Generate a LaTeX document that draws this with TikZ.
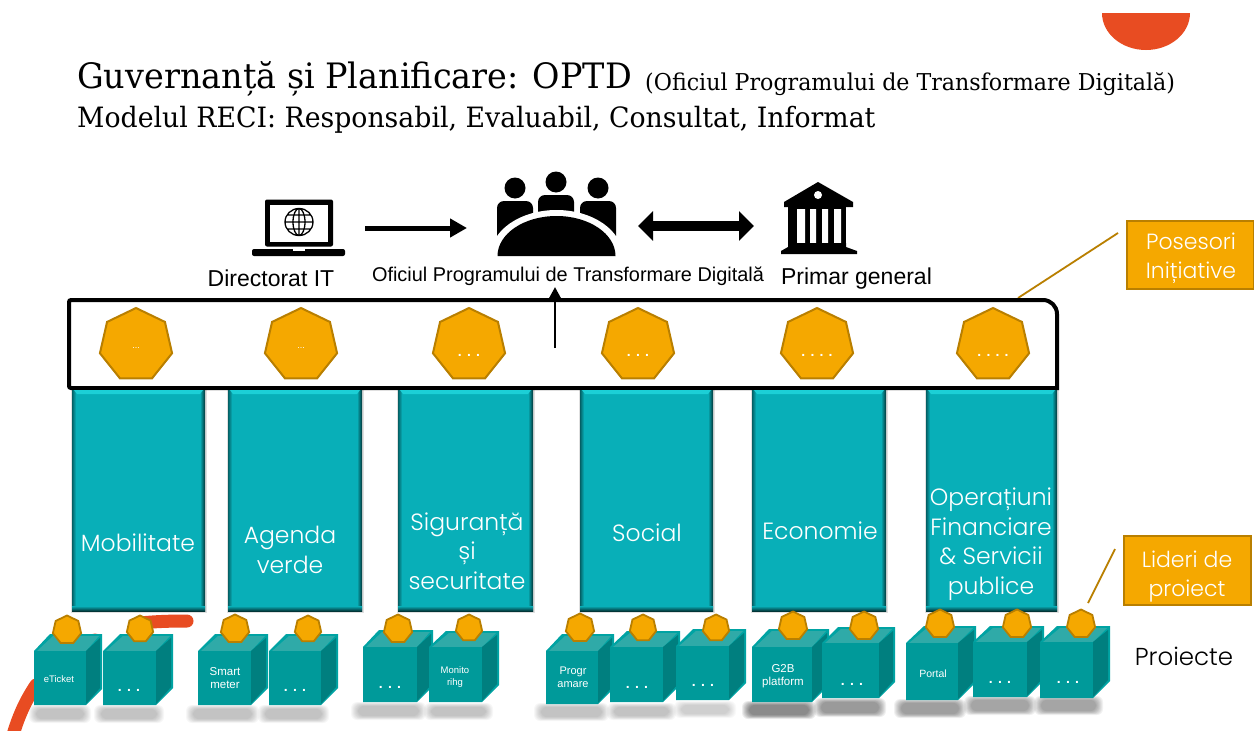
\documentclass[tikz,border=0pt]{standalone}
\usepackage{fontspec}
\setmainfont{Liberation Sans}
\newfontfamily\titlefont[FakeStretch=0.955]{DejaVu Serif}
\newfontfamily\gothfont{Poppins Light}
\usetikzlibrary{shapes.geometric,arrows.meta}
\definecolor{redc}{HTML}{E84C22}
\definecolor{amber}{HTML}{F5A800}
\definecolor{amberline}{HTML}{B97F00}
\definecolor{pillarc}{HTML}{08AFB8}
\definecolor{pillarhi}{HTML}{1CCFD6}
\definecolor{cubefront}{HTML}{009A9A}
\definecolor{cubeedge}{HTML}{00A3A3}
\definecolor{cubetop}{HTML}{2FAAA8}
\definecolor{cubeside}{HTML}{007F7F}
\tikzset{
  bighept/.style={regular polygon,regular polygon sides=7,minimum size=74pt,inner sep=0pt,fill=amber,draw=amberline,line width=2pt},
  smallhept/.style={regular polygon,regular polygon sides=7,minimum size=29pt,inner sep=0pt,fill=amber,draw=amberline,line width=1.8pt},
  callout/.style={rectangle,fill=amber,draw=amberline,line width=2pt,inner sep=0pt},
  calloutlabel/.style={text=white,align=center,inner sep=0pt,font=\gothfont\fontsize{22}{29.5}\selectfont},
  calloutline/.style={draw=amberline,line width=1.8pt},
  pillarbox/.style={rectangle,fill=pillarc,inner sep=0pt},
  pillarlabel/.style={text=white,align=center,inner sep=0pt,font=\gothfont\fontsize{23.5}{29.5}\selectfont},
  cubelabel/.style={text=white,align=center,inner sep=0pt,font=\fontsize{10.5}{13.5}\selectfont},
  dotlabel/.style={text=white,align=center,inner sep=0pt,font=\bfseries\fontsize{14}{14}\selectfont},
  tinydots/.style={text=white,align=center,inner sep=0pt,font=\fontsize{9}{9}\selectfont},
  iconlabel/.style={text=black,inner sep=0pt,font=\fontsize{23}{26}\selectfont},
  flow/.style={draw=black,line width=5pt,-{Triangle[length=17pt,width=18pt]}},
  both/.style={draw=black,line width=10pt,{Triangle[length=15pt,width=29pt]}-{Triangle[length=15pt,width=29pt]}},
  up/.style={draw=black,line width=2.8pt,-{Triangle[length=11pt,width=11pt]}},
}
% name, x1, x2, xright, ytop, yfront, ybottom
\newcommand\cubeat[7]{%
  \pgfmathsetmacro\dd{#4-#3}%
  \fill[cubeedge] (#2,#6) -- ({#2+\dd},#5) -- (#4,#5) -- (#4,{#7-\dd}) -- (#3,#7) -- (#2,#7) -- cycle;
  \fill[cubetop] (#2+3,#6) -- ({#2+\dd+3},#5+2) -- (#4-3,#5+2) -- (#3,#6) -- cycle;
  \fill[cubeside] (#3,#6) -- (#4-2,#5+4) -- (#4-2,{#7-\dd-1}) -- (#3,#7-1) -- cycle;
  \node[rectangle,fill=cubefront,inner sep=0pt,minimum width={(#3-#2)*1pt},minimum height={(#7-#6)*1pt},anchor=north west] (#1) at (#2,#6) {};
}
% x1, x2, y1, y2, opacity
\newcommand\softshadow[5]{%
  \foreach \i in {0,...,7}{
    \fill[black,opacity=#5,rounded corners=6pt] ({#1-1+\i*1.0},{#3-2+\i*0.55}) rectangle ({#2+1-\i*1.0},{#4+1-\i*0.55});
  }
}
% name, x1, x2, y1, y2
\newcommand\pillar[5]{%
  \fill[black,opacity=.12] (#2-1,#4) rectangle (#3+2,#5+2);
  \node[pillarbox,minimum width={(#3-#2)*1pt},minimum height={(#5-#4)*1pt},anchor=north west] (#1) at (#2,#4) {};
  \shade[left color=pillarc,right color=black!70!pillarc] (#3-5,#4) rectangle (#3,#5);
  \shade[left color=black!45!pillarc,right color=pillarc] (#2,#4) rectangle (#2+4,#5);
  \shade[top color=pillarc,bottom color=black!70!pillarc] (#2,#5-5) rectangle (#3,#5);
  \fill[pillarhi] (#2+2,#4) -- (#3-2,#4) -- (#3-5,#4+4) -- (#2+5,#4+4) -- cycle;
}
\begin{document}
\begin{tikzpicture}[x=1pt,y=-1pt]
\useasboundingbox (0,0) rectangle (1254,731);
\fill[white] (0,0) rectangle (1254,731);
% decorative red shapes
\fill[redc] (1102,13) arc[start angle=180,end angle=360,x radius=44,y radius=-37] -- cycle;
\draw[redc,line width=13pt,line cap=round] (12,738) .. controls (18,718) and (24,703) .. (36,685) (95,640) -- (95,640.1) (140,623) .. controls (155,621.5) and (170,621) .. (187,621);
% titles
\node[anchor=base west,inner sep=0pt,font=\titlefont\fontsize{35}{40}\selectfont] (title) at (77,88) {Guvernanță și Planificare: OPTD};
\node[anchor=base west,inner sep=0pt,font=\titlefont\fontsize{23.2}{28}\selectfont] (subtitle) at (645,90) {(Oficiul Programului de Transformare Digitală)};
\node[anchor=base west,inner sep=0pt,font=\titlefont\fontsize{28}{34}\selectfont] (model) at (77,127) {Modelul RECI: Responsabil, Evaluabil, Consultat, Informat};
% laptop icon
\node[rectangle,fill=black,rounded corners=2pt,inner sep=0pt,minimum width=68pt,minimum height=47pt] (laptop) at (299,223) {};
\fill[white] (270,205) rectangle (328,242);
\fill[black,rounded corners=2pt] (252,249) rectangle (345,256);
\fill[white] (293,249) rectangle (305,251);
\draw[black,line width=1.3pt] (299,222) ellipse[x radius=14,y radius=13.5] (299,222) ellipse[x radius=6,y radius=13.5] (285,222) -- (313,222) (287.5,215) -- (310.5,215) (287.5,229) -- (310.5,229) (299,208.5) -- (299,235.5);
% people icon
\node[circle,fill=black,inner sep=0pt,minimum size=21pt] (headl) at (515,188) {};
\node[circle,fill=black,inner sep=0pt,minimum size=21pt] (headm) at (556,182) {};
\node[circle,fill=black,inner sep=0pt,minimum size=21pt] (headr) at (598,188) {};
\fill[black,rounded corners=7pt] (497,250) -- (497,201) -- (533,201) -- (533,250) -- cycle;
\fill[black,rounded corners=7pt] (538,225) -- (538,195) -- (574,195) -- (574,225) -- cycle;
\fill[black,rounded corners=7pt] (580,250) -- (580,201) -- (616,201) -- (616,250) -- cycle;
\fill[white] (490.5,256) arc[start angle=180,end angle=360,x radius=66,y radius=46] -- cycle;
\fill[white] (490,236) rectangle (497,262);
\fill[white] (616,236) rectangle (623,262);
\fill[black] (497.5,256) arc[start angle=180,end angle=360,x radius=59,y radius=40] -- cycle;
% hall icon
\fill[black] (784,202) -- (818,182) -- (853,202) -- (853,207) -- (784,207) -- cycle;
\fill[white] (818,195) circle[radius=4];
\fill[black] (788,207) rectangle (846,243);
\fill[white] (797,209) rectangle (805,243) (810,209) rectangle (816,243) (822,209) rectangle (828,243) (834,209) rectangle (841,243);
\fill[black] (788,243) -- (846,243) -- (846,247) -- (857,251) -- (857,254) -- (781,254) -- (781,251) -- (788,247) -- cycle;
\node[rectangle,inner sep=0pt,minimum width=76pt,minimum height=72pt] (hall) at (819,218) {};
% labels
\node[iconlabel,anchor=base] (ldir) at (271,286) {Directorat IT};
\node[iconlabel,anchor=base,font=\fontsize{19.9}{22}\selectfont] (lof) at (568,281) {Oficiul Programului de Transformare Digitală};
\node[iconlabel,anchor=base] (lpr) at (856.5,284) {Primar general};
% callout lines
\coordinate (posA) at (1118,233);
\coordinate (posB) at (1018,298);
\draw[calloutline] (posA) -- (posB);
% frame
\draw[black,line width=4pt] (69,388) [rounded corners=2pt] -- (69,300) [rounded corners=14pt] -- (1057,300) [sharp corners] -- (1057,388) [rounded corners=2pt] -- cycle;
% big heptagons
\node[bighept] (h1) at (136,345) {};
\node[bighept] (h2) at (301,345) {};
\node[bighept] (h3) at (469,345) {};
\node[bighept] (h4) at (638,345) {};
\node[bighept] (h5) at (817,345) {};
\node[bighept] (h6) at (993,345) {};
\node[tinydots] (d1) at (136,348) {...};
\node[tinydots] (d2) at (301,348) {...};
\node[dotlabel] (d3) at (469,355) {. . .};
\node[dotlabel] (d4) at (638,355) {. . .};
\node[dotlabel] (d5) at (817,355) {. . . .};
\node[dotlabel] (d6) at (993,355) {. . . .};
% arrows
\coordinate (a1s) at (365,228); \coordinate (a1e) at (467,228);
\draw[flow] (a1s) -- (a1e);
\coordinate (a2s) at (638,226); \coordinate (a2e) at (754,226);
\draw[both] (a2s) -- (a2e);
\coordinate (a3s) at (555,348); \coordinate (a3e) at (555,287);
\draw[up] (a3s) -- (a3e);
% pillars
\pillar{p1}{72}{205}{390}{611}
\pillar{p2}{228}{362}{390}{611}
\pillar{p3}{398}{533}{390}{611}
\pillar{p4}{580}{713}{390}{611}
\pillar{p5}{752}{886}{390}{611}
\pillar{p6}{926}{1057}{390}{611}
\node[pillarlabel] (t1) at (138,543) {Mobilitate};
\node[pillarlabel] (t2) at (290,550) {Agenda\\verde};
\node[pillarlabel] (t3) at (467,551) {Siguranță\\și\\securitate};
\node[pillarlabel] (t4) at (647,533) {Social};
\node[pillarlabel] (t5) at (820,531) {Economie};
\node[pillarlabel] (t6) at (991,544) {Operațiuni\\Financiare\\\& Servicii\\publice};
% shadows
\softshadow{30}{90}{707}{722}{.03}
\softshadow{95}{163}{707}{722}{.03}
\softshadow{187}{258}{707}{722}{.03}
\softshadow{259}{328}{707}{722}{.03}
\softshadow{352}{425}{704}{719}{.03}
\softshadow{425}{492}{705}{719}{.03}
\softshadow{535}{608}{705}{720}{.03}
\softshadow{608}{675}{705}{719}{.03}
\softshadow{675}{735}{703}{717}{.025}
\softshadow{743}{815}{703}{718}{.07}
\softshadow{815}{885}{700}{716}{.06}
\softshadow{895}{965}{701}{717}{.055}
\softshadow{965}{1035}{698}{714}{.05}
\softshadow{1035}{1102}{698}{714}{.05}
% cubes
\cubeat{c1}{34}{86}{102}{634}{651}{705}
\cubeat{c2}{103}{156}{173}{634}{651}{705}
\cubeat{c3}{198}{251}{268}{634}{651}{705}
\cubeat{c4}{269}{321}{338}{634}{651}{705}
\cubeat{c5}{363}{417}{433}{630}{647}{702}
\cubeat{c6}{429}{482}{499}{631}{647}{702}
\cubeat{c7}{546}{598}{614}{634}{651}{704}
\cubeat{c8}{610}{663}{680}{631}{647}{702}
\cubeat{c9}{676}{729}{746}{629}{646}{700}
\cubeat{c10}{752}{812}{829}{629}{647}{702}
\cubeat{c11}{822}{879}{895}{627}{643}{698}
\cubeat{c12}{906}{958}{976}{626}{643}{700}
\cubeat{c13}{973}{1027}{1044}{626}{642}{697}
\cubeat{c14}{1040}{1093}{1110}{626}{642}{698}
\node[cubelabel,font=\fontsize{9.5}{12}\selectfont] (l1) at (59,679) {eTicket};
\node[dotlabel] (l2) at (129,690) {. . .};
\node[cubelabel,font=\fontsize{11.5}{13.5}\selectfont] (l3) at (225,678) {Smart\\meter};
\node[dotlabel] (l4) at (295,690) {. . .};
\node[dotlabel] (l5) at (390,687) {. . .};
\node[cubelabel,font=\fontsize{9.5}{11.5}\selectfont] (l6) at (455,677) {Monito\\rihg};
\node[cubelabel,font=\fontsize{11}{13}\selectfont] (l7) at (573,677) {Progr\\amare};
\node[dotlabel] (l8) at (637,687) {. . .};
\node[dotlabel] (l9) at (703,685) {. . .};
\node[cubelabel,font=\fontsize{11.5}{13}\selectfont] (l10) at (783,676) {G2B\\platform};
\node[dotlabel] (l11) at (852,684) {. . .};
\node[cubelabel,font=\fontsize{10.5}{13}\selectfont] (l12) at (933,674) {Portal};
\node[dotlabel] (l13) at (1000,682) {. . .};
\node[dotlabel] (l14) at (1068,682) {. . .};
% small heptagons
\node[smallhept] (s1) at (67,630) {};
\node[smallhept,minimum size=27pt] (s2) at (140,629) {};
\node[smallhept] (s3) at (235,629) {};
\node[smallhept,minimum size=27pt] (s4) at (308,629) {};
\node[smallhept] (s5) at (398,629) {};
\node[smallhept,minimum size=27pt] (s6) at (469,628) {};
\node[smallhept] (s7) at (580,628) {};
\node[smallhept,minimum size=27pt] (s8) at (643,628) {};
\node[smallhept,minimum size=27pt] (s9) at (716,628) {};
\node[smallhept] (s10) at (793,626) {};
\node[smallhept] (s11) at (864,626) {};
\node[smallhept] (s12) at (940,624) {};
\node[smallhept] (s13) at (1017,624) {};
\node[smallhept] (s14) at (1081,624) {};
% callouts
\node[callout,minimum width=127pt,minimum height=68pt] (cpos) at (1190.5,255) {};
\node[calloutlabel] (cposl) at (1191,258) {Posesori\\Inițiative};
\node[callout,minimum width=127pt,minimum height=69pt] (clid) at (1187.5,570.5) {};
\node[calloutlabel] (clidl) at (1187,576.5) {Lideri de\\proiect};
\coordinate (lidA) at (1115,549);
\coordinate (lidB) at (1088,603);
\draw[calloutline] (lidA) -- (lidB);
\node[anchor=center,inner sep=0pt,font=\gothfont\fontsize{24.5}{28}\selectfont] (proj) at (1184,656) {Proiecte};
\end{tikzpicture}
\end{document}
